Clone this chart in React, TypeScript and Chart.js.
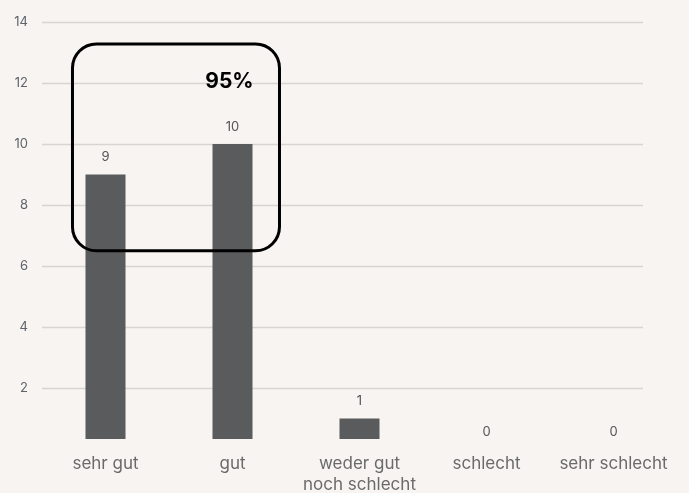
import React, { useEffect, useRef } from "react";
import { Chart, registerables } from "chart.js";

Chart.register(...registerables);

const categories: (string | string[])[] = ["sehr gut", "gut", ["weder gut", "noch schlecht"], "schlecht", "sehr schlecht"];
const counts = [9, 10, 1, 0, 0];
const yTicks = [2, 4, 6, 8, 10, 12, 14];
const highlightText = "95%";
// highlight box in scale units: category index range and value range
const highlightX = [-0.26, 1.37];
const highlightY = [13.28, 6.5];
const highlightTextAt = [1.0, 12.05];

const BG = "#f7f4f1";
const FONT = "Inter, 'Noto Sans', sans-serif";

export default function App() {
  const ref = useRef<HTMLCanvasElement>(null);
  useEffect(() => {
    if (!ref.current) return;
    const plugin = {
      id: "custom",
      beforeDatasetsDraw(chart: any) {
        const { ctx, chartArea, scales } = chart;
        const y = scales.y;
        ctx.save();
        ctx.strokeStyle = "#d8d5d1";
        ctx.lineWidth = 1.5;
        yTicks.forEach((v) => {
          const py = Math.round(y.getPixelForValue(v)) + 0.5;
          ctx.beginPath();
          ctx.moveTo(chartArea.left, py);
          ctx.lineTo(chartArea.right - 34, py);
          ctx.stroke();
        });
        ctx.restore();
      },
      afterDatasetsDraw(chart: any) {
        const { ctx, scales } = chart;
        const x = scales.x;
        const y = scales.y;
        ctx.save();
        ctx.font = `13px ${FONT}`;
        ctx.fillStyle = "#555555";
        ctx.textAlign = "center";
        ctx.textBaseline = "middle";
        counts.forEach((v, i) => {
          ctx.fillText(String(v), x.getPixelForValue(i), y.getPixelForValue(v) - 17);
        });
        // highlight box
        const x0 = x.getPixelForValue(highlightX[0]);
        const x1 = x.getPixelForValue(highlightX[1]);
        const y0 = y.getPixelForValue(highlightY[0]);
        const y1 = y.getPixelForValue(highlightY[1]);
        ctx.strokeStyle = "#000000";
        ctx.lineWidth = 3;
        ctx.beginPath();
        (ctx as any).roundRect(x0, y0, x1 - x0, y1 - y0, 24);
        ctx.stroke();
        ctx.fillStyle = "#000000";
        ctx.font = `bold 21px ${FONT}`;
        ctx.fillText(highlightText, x.getPixelForValue(highlightTextAt[0]) - 3, y.getPixelForValue(highlightTextAt[1]));
        ctx.restore();
      },
    };
    const chart = new Chart(ref.current, {
      type: "bar",
      data: {
        labels: categories,
        datasets: [
          {
            data: counts,
            backgroundColor: "#5a5b5d",
            barPercentage: 0.315,
            categoryPercentage: 1,
          },
        ],
      },
      options: {
        animation: false,
        responsive: false,
        layout: { padding: { top: 22, right: 12, left: 0, bottom: 0 } },
        plugins: { legend: { display: false }, tooltip: { enabled: false } },
        scales: {
          x: {
            grid: { display: false, drawTicks: false },
            border: { display: false },
            ticks: {
              color: "#6a6a6a",
              font: { family: FONT, size: 17, lineHeight: 1.2 },
              padding: 15,
              maxRotation: 0,
              autoSkip: false,
            },
            afterFit(scale: any) {
              scale.height = 54;
            },
          },
          y: {
            min: 0.33,
            max: 14,
            grid: { display: false, drawTicks: false },
            border: { display: false },
            ticks: {
              color: "#5f636b",
              font: { family: FONT, size: 13 },
              padding: 14,
            },
            afterBuildTicks(scale: any) {
              scale.ticks = yTicks.map((v) => ({ value: v }));
            },
            afterFit(scale: any) {
              scale.width = 42;
            },
          },
        },
      },
      plugins: [plugin],
    });
    return () => chart.destroy();
  }, []);
  return (
    <div style={{ position: "fixed", left: 0, top: 0, width: 689, height: 493, background: BG }}>
      <canvas ref={ref} width={689} height={493} style={{ display: "block" }} />
    </div>
  );
}
